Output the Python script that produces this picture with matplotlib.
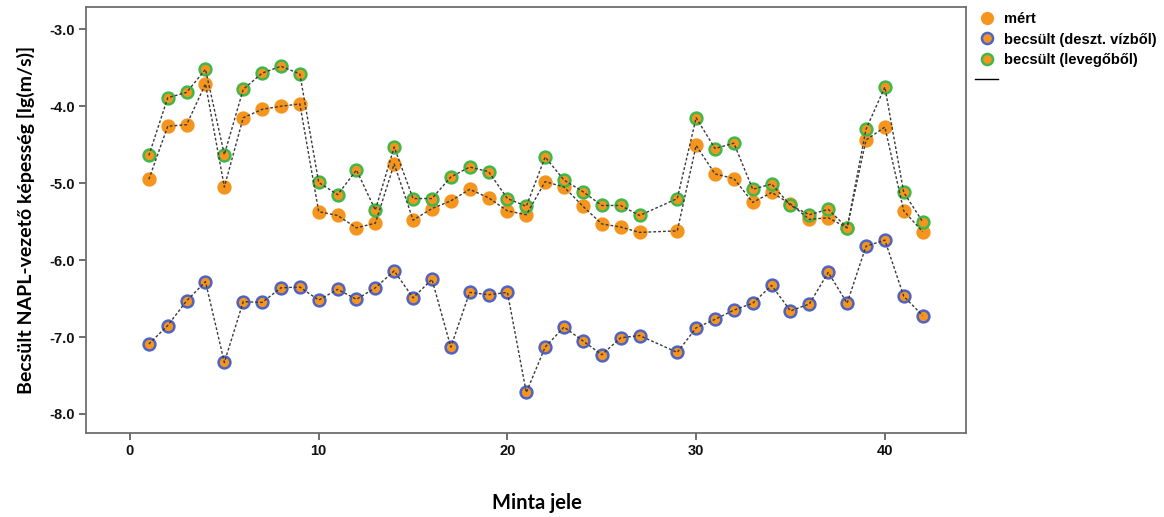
import matplotlib
matplotlib.use("Agg")
import matplotlib.pyplot as plt
from matplotlib.lines import Line2D

# Sample identifiers (sample 28 has no data)
minta = [1, 2, 3, 4, 5, 6, 7, 8, 9, 10, 11, 12, 13, 14, 15, 16, 17, 18, 19, 20,
         21, 22, 23, 24, 25, 26, 27, 29, 30, 31, 32, 33, 34, 35, 36, 37, 38, 39,
         40, 41, 42]

# Measured NAPL conductivity [lg(m/s)]
mert = [-4.95, -4.26, -4.24, -3.71, -5.05, -4.15, -4.04, -4.00, -3.97, -5.37,
        -5.42, -5.58, -5.52, -4.75, -5.48, -5.33, -5.23, -5.08, -5.19, -5.36,
        -5.41, -4.98, -5.05, -5.30, -5.53, -5.57, -5.64, -5.62, -4.51, -4.88,
        -4.94, -5.25, -5.12, -5.27, -5.47, -5.45, -5.58, -4.44, -4.27, -5.36,
        -5.63]

# Estimated from distilled-water conductivity
becsult_viz = [-7.09, -6.85, -6.53, -6.28, -7.33, -6.54, -6.55, -6.36, -6.35, -6.52,
               -6.38, -6.51, -6.36, -6.14, -6.49, -6.25, -7.13, -6.42, -6.45, -6.42,
               -7.72, -7.13, -6.87, -7.05, -7.23, -7.01, -6.98, -7.20, -6.88, -6.77,
               -6.65, -6.56, -6.33, -6.66, -6.57, -6.16, -6.56, -5.82, -5.74, -6.47,
               -6.72]

# Estimated from air permeability
becsult_levego = [-4.64, -3.89, -3.82, -3.52, -4.63, -3.78, -3.57, -3.48, -3.58, -4.99,
                  -5.15, -4.83, -5.35, -4.53, -5.20, -5.20, -4.92, -4.79, -4.85, -5.20,
                  -5.30, -4.66, -4.96, -5.11, -5.29, -5.29, -5.42, -5.20, -4.15, -4.55,
                  -4.48, -5.08, -5.01, -5.29, -5.41, -5.34, -5.58, -4.30, -3.75, -5.12,
                  -5.50]

x_ticks = [0, 10, 20, 30, 40]
y_ticks = [-3.0, -4.0, -5.0, -6.0, -7.0, -8.0]

ORANGE = "#f5951e"
BLUE = "#4f63c4"
GREEN = "#3fb84a"
LINE = "#3a3a3a"

plt.rcParams["font.family"] = ["Liberation Sans Narrow", "Liberation Sans", "DejaVu Sans"]

fig = plt.figure(figsize=(11.64, 5.17), dpi=100)
ax = fig.add_axes([0.0739, 0.1625, 0.756, 0.8234])

ms = 8.5
mew = 1.8
ax.plot(minta, mert, linestyle="none", marker="o", ms=ms,
        mfc=ORANGE, mec=ORANGE, mew=mew, zorder=2)
ax.plot(minta, becsult_viz, linestyle="none", marker="o", ms=ms,
        mfc=ORANGE, mec=BLUE, mew=mew, zorder=2)
ax.plot(minta, becsult_levego, linestyle="none", marker="o", ms=ms,
        mfc=ORANGE, mec=GREEN, mew=mew, zorder=2)

for series in (mert, becsult_viz, becsult_levego):
    ax.plot(minta, series, linestyle=(0, (2.0, 1.5)), color=LINE, lw=1.0, zorder=3)

ax.set_xlim(-2.33, 44.3)
ax.set_ylim(-8.247, -2.714)
ax.set_xticks(x_ticks)
ax.set_xticklabels([str(t) for t in x_ticks])
ax.set_yticks(y_ticks)
ax.set_yticklabels([f"{t:.1f}" for t in y_ticks])

for sp in ax.spines.values():
    sp.set_color("#6e6e6e")
    sp.set_linewidth(1.3)
ax.tick_params(axis="both", direction="out", length=5, width=1.2, color="#555555",
               labelsize=10.5, labelcolor="#111111", pad=3)
for lab in ax.get_xticklabels() + ax.get_yticklabels():
    lab.set_fontweight("bold")

ax.set_ylabel("Becsült NAPL-vezető képesség [lg(m/s)]", family=["Lato", "DejaVu Sans"],
              fontsize=14, fontweight="bold", labelpad=10)
fig.text(0.461, 0.027, "Minta jele", family=["Lato", "DejaVu Sans"],
         fontsize=14.5, fontweight="bold", ha="center", va="center")

handles = [
    Line2D([], [], linestyle="none", marker="o", ms=8, mfc=ORANGE, mec=ORANGE, mew=1.5),
    Line2D([], [], linestyle="none", marker="o", ms=8, mfc=ORANGE, mec=BLUE, mew=1.8),
    Line2D([], [], linestyle="none", marker="o", ms=8, mfc=ORANGE, mec=GREEN, mew=1.8),
    Line2D([], [], color="black", lw=1.0),
]
labels = ["mért", "becsült (deszt. vízből)", "becsült (levegőből)", ""]
fig.legend(handles, labels, loc="upper left", bbox_to_anchor=(0.827, 1.0),
           frameon=False, prop={"family": ["Liberation Sans", "DejaVu Sans"],
                                "weight": "bold", "size": 10.5},
           handlelength=1.6, handletextpad=0.4, labelspacing=0.42, borderpad=0.35)

fig.savefig("out.png", dpi=100, facecolor="white")
